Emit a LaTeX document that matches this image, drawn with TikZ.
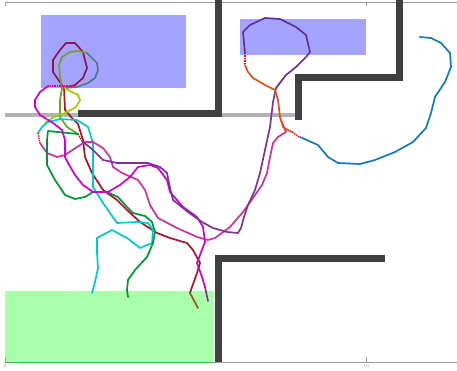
\documentclass[tikz,border=0pt]{standalone}
\usepackage{xcolor}
\usepackage{tikz}
\usetikzlibrary{positioning}

\definecolor{goalblue}{RGB}{164,164,255}
\definecolor{startgreen}{RGB}{170,255,170}
\definecolor{wallgray}{RGB}{64,64,64}
\definecolor{maroonc}{RGB}{140,22,80}
\definecolor{crimsonc}{RGB}{165,20,45}
\definecolor{brownc}{RGB}{140,90,40}
\definecolor{olivec}{RGB}{110,160,50}
\definecolor{slatec}{RGB}{85,120,140}
\definecolor{limec}{RGB}{160,205,0}
\definecolor{cyanc}{RGB}{0,200,210}
\definecolor{pinkc}{RGB}{205,50,155}
\definecolor{greenc}{RGB}{0,150,55}
\definecolor{magentac}{RGB}{205,0,205}
\definecolor{purplec}{RGB}{125,50,150}
\definecolor{indigoc}{RGB}{100,45,170}
\definecolor{orangec}{RGB}{220,85,20}
\definecolor{bluec}{RGB}{20,120,190}

\begin{document}
\begin{tikzpicture}[
  x=1pt, y=-1pt,
  zone/.style={draw=none},
  wall/.style={draw=wallgray, line width=7pt, line join=miter},
  axisline/.style={draw=gray!80, line width=0.8pt},
  trail/.style={line width=1.7pt, line join=round, line cap=round},
  jump/.style={red, line width=1.4pt, densely dotted},
  ticklab/.style={font=\fontsize{4}{5}\selectfont, text=gray, inner sep=0.5pt, anchor=north}
]
\useasboundingbox (0,0) rectangle (457,370);

% regions
\fill[zone, goalblue] (41,15) rectangle (186,88);
\fill[zone, goalblue] (240,19) rectangle (366,55);
\fill[zone, startgreen] (5,291) rectangle (214,362);

% frame
\draw[axisline] (5,2) -- (457,2);
\draw[axisline] (5,362) -- (457,362);
\draw[green!50!gray, line width=0.8pt] (5,362) -- (214,362);
\draw[axisline] (5,2) -- (5,6);
\draw[axisline] (366,2) -- (366,6);
\draw[axisline] (5,362) -- (5,358);
\draw[axisline] (366,362) -- (366,357);
\node[ticklab] (lab0) at (5,364) {0};
\node[ticklab] (lab10) at (366,364) {10};

% walls
\draw[gray!60, line width=3.5pt] (5,115) -- (295,115);
\draw[wall] (218,0) -- (218,113.5) -- (78,113.5);
\draw[wall] (399,0) -- (399,77) -- (298,77) -- (298,120);
\draw[wall] (218,362) -- (218,258) -- (385,258);

% trajectories
\draw[trail, maroonc] (64,88) -- (53,72) -- (53,60) -- (60,50) -- (66,43) -- (75,43)
  -- (83,52) -- (87,68) -- (83,78) -- (75,85) -- (64,88);
\draw[trail, crimsonc] (64,88) -- (65,110) -- (72,118) -- (78,124) -- (83,140) -- (85,157)
  -- (92,173) -- (103,190) -- (117,200) -- (127,210) -- (140,222) -- (157,233)
  -- (170,238) -- (187,243) -- (193,250) -- (200,263) -- (197,273) -- (192,287) -- (190,293);
\draw[trail, brownc] (190,293) -- (198,308);

\draw[trail, olivec] (78,134) -- (67,127) -- (60,117) -- (60,100) -- (62,88) -- (60,77)
  -- (59,65) -- (62,57) -- (70,52) -- (78,51) -- (87,53);
\draw[trail, slatec] (87,53) -- (97,63) -- (98,70) -- (95,78) -- (88,83) -- (77,87) -- (64,88);
\draw[trail, limec] (64,88) -- (78,95) -- (80,100) -- (76,107) -- (65,113) -- (52,118) -- (45,123);

\draw[trail, cyanc] (38,133) -- (42,127) -- (48,122) -- (60,119) -- (77,120) -- (88,127)
  -- (93,143) -- (93,187) -- (103,203) -- (117,223) -- (137,222) -- (148,223) -- (153,230)
  -- (152,243) -- (140,248) -- (127,238) -- (112,230) -- (97,238) -- (97,253) -- (98,268)
  -- (95,282) -- (92,293);
\draw[jump] (38,133) -- (40,143);

\draw[trail, pinkc] (40,143) -- (47,153) -- (57,157) -- (65,155) -- (77,147) -- (85,142)
  -- (93,142) -- (103,148) -- (110,157) -- (113,167) -- (122,173) -- (138,180) -- (145,190)
  -- (150,205) -- (158,218) -- (177,228) -- (197,237) -- (208,240) -- (215,238) -- (230,227)
  -- (243,212) -- (253,198) -- (262,185) -- (267,173) -- (270,157) -- (273,143) -- (278,137)
  -- (286,132) -- (281,120);

\draw[jump] (78,134) -- (82,141);
\draw[trail, greenc] (78,134) -- (48,131) -- (47,140) -- (47,165) -- (55,180) -- (65,195)
  -- (75,199) -- (85,197) -- (93,192) -- (107,192) -- (118,197) -- (127,207) -- (133,213)
  -- (145,216) -- (152,222) -- (155,232) -- (153,243) -- (147,257) -- (135,270) -- (128,280)
  -- (127,290) -- (128,297);

\draw[jump, magentac!60!red] (75,86) -- (48,86);
\draw[trail, magentac] (48,86) -- (40,92) -- (35,100) -- (35,107) -- (40,115) -- (53,123)
  -- (62,130) -- (65,140) -- (65,157) -- (68,163) -- (75,175) -- (83,185) -- (93,192)
  -- (108,192) -- (120,185) -- (130,177) -- (138,167) -- (150,165) -- (158,168) -- (167,180)
  -- (170,192) -- (183,207) -- (197,217) -- (203,227) -- (205,242) -- (200,255) -- (197,263)
  -- (202,277) -- (205,287);
\draw[trail, purplec!70!magentac] (205,287) -- (208,301);

\draw[trail, purplec] (82,141) -- (93,150) -- (103,160) -- (117,163) -- (130,163) -- (148,163)
  -- (160,167) -- (167,173) -- (170,188) -- (173,200) -- (188,212) -- (202,222) -- (213,228)
  -- (227,232) -- (238,233) -- (241,228) -- (244,217) -- (248,205) -- (255,190) -- (260,173)
  -- (265,150) -- (270,127) -- (273,102) -- (276,88);
\draw[trail, indigoc] (276,88) -- (286,75) -- (296,67) -- (306,57) -- (310,52) -- (306,35)
  -- (296,27) -- (280,19) -- (265,18) -- (250,25) -- (243,32) -- (245,53);
\draw[jump] (245,53) -- (245,65);
\draw[trail, orangec] (245,65) -- (248,72) -- (253,78) -- (265,85) -- (275,90) -- (278,100)
  -- (280,117) -- (283,127) -- (288,130) -- (292,132);
\draw[jump] (292,132) -- (299,137);
\draw[trail, bluec] (300,137) -- (318,145) -- (328,157) -- (338,163) -- (360,164) -- (375,160)
  -- (395,152) -- (413,142) -- (426,128) -- (431,113) -- (435,97) -- (445,82) -- (451,67)
  -- (450,53) -- (441,43) -- (431,38) -- (420,37);

\end{tikzpicture}
\end{document}
